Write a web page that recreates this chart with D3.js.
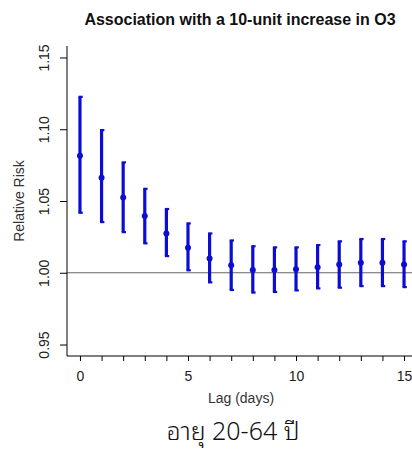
<!DOCTYPE html>
<html>
<head>
<meta charset="utf-8">
<script src="https://cdn.jsdelivr.net/npm/d3@7"></script>
<style>
  html, body { margin: 0; padding: 0; background: #fff; }
  svg { display: block; }
</style>
</head>
<body>
<svg id="chart" width="412" height="450"></svg>
<script>
// Lag-specific relative risk of O3 (per 10-unit increase) with 95% CI
const lags  = [0, 1, 2, 3, 4, 5, 6, 7, 8, 9, 10, 11, 12, 13, 14, 15];
const rr    = [1.0815, 1.0662, 1.0525, 1.0395, 1.0274, 1.0174, 1.0100, 1.0052, 1.0019, 1.0019, 1.0024, 1.0038, 1.0058, 1.0070, 1.0070, 1.0058];
const lower = [1.0418, 1.0353, 1.0283, 1.0205, 1.0116, 1.0017, 0.9933, 0.9880, 0.9862, 0.9866, 0.9877, 0.9891, 0.9896, 0.9907, 0.9907, 0.9900];
const upper = [1.1226, 1.0994, 1.0769, 1.0585, 1.0444, 1.0344, 1.0274, 1.0225, 1.0185, 1.0177, 1.0177, 1.0193, 1.0219, 1.0235, 1.0235, 1.0219];
const yTicks = [0.95, 1.00, 1.05, 1.10, 1.15];
const xTicks = lags;
const xLabelTicks = [0, 5, 10, 15];

const titleText = "Association with a 10-unit increase in O3";
const xTitle = "Lag (days)";
const yTitle = "Relative Risk";
const caption = "อายุ 20-64 ปี";

const svg = d3.select("#chart");
const plot = { left: 67, right: 417, top: 46, bottom: 356 };

const x = d3.scaleLinear().domain([-0.6, 15.6]).range([plot.left, plot.right]);
const y = d3.scaleLinear().domain([0.942, 1.158]).range([plot.bottom, plot.top]);

const font = "'Liberation Sans', Arial, sans-serif";
const blue = "#0c0cd2";

// Reference line at RR = 1
svg.append("line")
  .attr("x1", plot.left).attr("x2", 412)
  .attr("y1", y(1)).attr("y2", y(1))
  .attr("stroke", "#666").attr("stroke-width", 1);

// Y axis
const yAxis = d3.axisLeft(y).tickValues(yTicks).tickFormat(d3.format(".2f")).tickSize(7).tickSizeOuter(0);
const gy = svg.append("g").attr("transform", `translate(${plot.left},0)`).call(yAxis);
gy.select(".domain").attr("d", `M0,${plot.top}V${plot.bottom}`).attr("stroke", "#000");
gy.selectAll(".tick line").attr("stroke", "#000");
gy.selectAll(".tick text")
  .attr("font-family", font).attr("font-size", 14).attr("fill", "#222")
  .attr("transform", "rotate(-90)")
  .attr("x", 0).attr("y", -18)
  .attr("dy", 0)
  .attr("text-anchor", "middle");

// X axis
const xAxis = d3.axisBottom(x).tickValues(xTicks)
  .tickFormat(d => xLabelTicks.includes(d) ? d : "")
  .tickSize(5).tickSizeOuter(0);
const gx = svg.append("g").attr("transform", `translate(0,${plot.bottom})`).call(xAxis);
gx.select(".domain").attr("d", `M${plot.left},0H412`).attr("stroke", "#000");
gx.selectAll(".tick line").attr("stroke", "#000");
gx.selectAll(".tick text")
  .attr("font-family", font).attr("font-size", 14).attr("fill", "#222")
  .attr("y", 25).attr("dy", 0);

// Confidence intervals
const data = lags.map((l, i) => ({ lag: l, rr: rr[i], lo: lower[i], hi: upper[i] }));
const g = svg.append("g");
g.selectAll("line.ci").data(data).enter().append("line")
  .attr("class", "ci")
  .attr("x1", d => x(d.lag)).attr("x2", d => x(d.lag))
  .attr("y1", d => y(d.lo)).attr("y2", d => y(d.hi))
  .attr("stroke", blue).attr("stroke-width", 3.2);
["lo", "hi"].forEach(k => {
  g.selectAll(`line.cap-${k}`).data(data).enter().append("line")
    .attr("x1", d => x(d.lag) - 1.5).attr("x2", d => x(d.lag) + 2.8)
    .attr("y1", d => y(d[k])).attr("y2", d => y(d[k]))
    .attr("stroke", blue).attr("stroke-width", 2.2);
});
g.selectAll("circle").data(data).enter().append("circle")
  .attr("cx", d => x(d.lag)).attr("cy", d => y(d.rr))
  .attr("r", 3).attr("fill", blue);

// Titles
svg.append("text").attr("x", 240).attr("y", 25)
  .attr("text-anchor", "middle").attr("font-family", font)
  .attr("font-weight", "bold").attr("font-size", 16).attr("fill", "#111")
  .text(titleText);

svg.append("text").attr("transform", `translate(24,${(plot.top + plot.bottom) / 2}) rotate(-90)`)
  .attr("text-anchor", "middle").attr("font-family", font)
  .attr("font-size", 14).attr("fill", "#333")
  .text(yTitle);

svg.append("text").attr("x", 241).attr("y", 403)
  .attr("text-anchor", "middle").attr("font-family", font)
  .attr("font-size", 14).attr("fill", "#333")
  .text(xTitle);

svg.append("text").attr("x", 233).attr("y", 440)
  .attr("text-anchor", "middle")
  .attr("font-family", "'Noto Sans Thai Looped', 'Noto Sans Thai', 'Noto Sans', sans-serif")
  .attr("font-size", 25).attr("font-weight", 300).attr("fill", "#111")
  .text(caption);
</script>
</body>
</html>
